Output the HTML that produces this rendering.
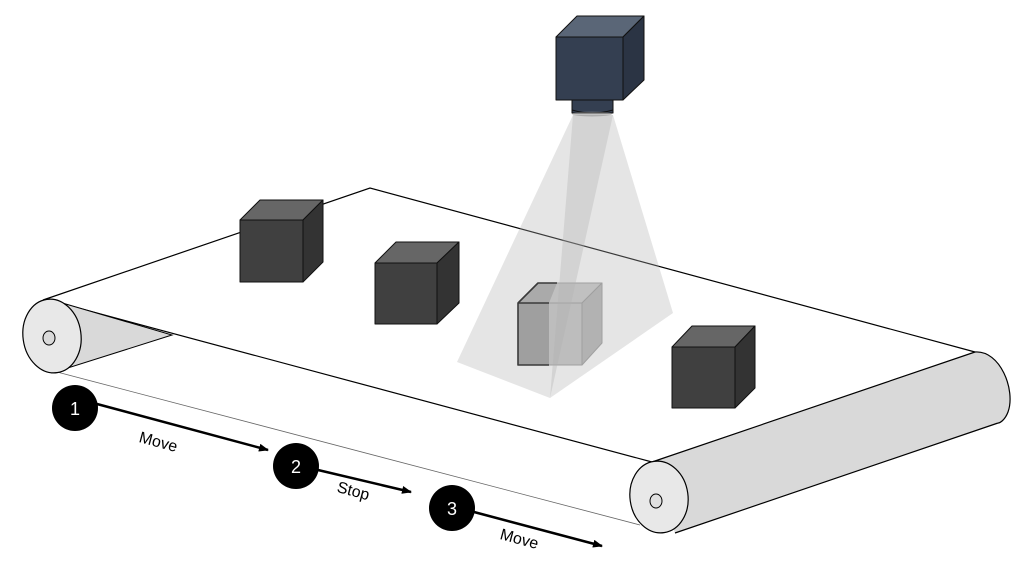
<!DOCTYPE html>
<html><head><meta charset="utf-8"><style>
html,body{margin:0;padding:0;background:#fff;}
svg{display:block;}
text{font-family:"Liberation Sans",sans-serif;}
</style></head><body>
<svg width="1024" height="570" viewBox="0 0 1024 570" xmlns="http://www.w3.org/2000/svg">
<defs>
<marker id="ah" markerWidth="10" markerHeight="8" refX="9" refY="4" orient="auto" markerUnits="userSpaceOnUse">
<path d="M0,0 L10,4 L0,8 Z" fill="#000"/></marker>
</defs>
<polygon points="43,300 370,188 975,352 652,462 67,305" fill="#fff"/>
<polyline points="43,300 370,188 975,352" fill="none" stroke="#000" stroke-width="1.2"/>
<line x1="67" y1="305" x2="652" y2="462" stroke="#000" stroke-width="1.2"/>
<line x1="57" y1="372" x2="640" y2="525" stroke="#666" stroke-width="0.8"/>
<polygon points="52,300 172,335 52,373" fill="#d9d9d9" stroke="#000" stroke-width="1"/>
<ellipse cx="52" cy="336" rx="29" ry="37" fill="#e8e8e8" stroke="#000" stroke-width="1.2" transform="rotate(-8 52 336)"/>
<ellipse cx="49" cy="338" rx="6" ry="7" fill="#d9d9d9" stroke="#000" stroke-width="1"/>
<polygon points="652,462 975,352 1000,423 675,533" fill="#d9d9d9"/>
<line x1="652" y1="462" x2="975" y2="352" stroke="#000" stroke-width="1.2"/>
<line x1="675" y1="533" x2="998" y2="423" stroke="#000" stroke-width="1.2"/>
<path d="M975,352 C1000,350 1016,390 1008,412 C1005,420 1000,423 998,423" fill="#d9d9d9" stroke="#000" stroke-width="1.2"/>
<ellipse cx="659" cy="497" rx="29" ry="36" fill="#e8e8e8" stroke="#000" stroke-width="1.2" transform="rotate(-8 659 497)"/>
<ellipse cx="656" cy="501" rx="6" ry="7" fill="#e0e0e0" stroke="#000" stroke-width="1"/>
<g stroke="#111" stroke-width="1" stroke-linejoin="round">
<polygon points="240,220 260,200 323,200 303,220" fill="#666"/>
<polygon points="303,220 323,200 323,262 303,282" fill="#333"/>
<rect x="240" y="220" width="63" height="62" fill="#404040"/>
</g>
<g stroke="#111" stroke-width="1" stroke-linejoin="round">
<polygon points="375,263 396,242 459,242 437,263" fill="#666"/>
<polygon points="437,263 459,242 459,303 437,324" fill="#333"/>
<rect x="375" y="263" width="62" height="61" fill="#404040"/>
</g>
<g stroke="#111" stroke-width="1" stroke-linejoin="round">
<polygon points="672,347 692,326 755,326 735,347" fill="#666"/>
<polygon points="735,347 755,326 755,388 735,408" fill="#333"/>
<rect x="672" y="347" width="63" height="61" fill="#404040"/>
</g>
<g stroke-linejoin="round">
<polygon points="518,303 538,283 602,283 582,303" fill="#c8c8c8" stroke="#999" stroke-width="1"/>
<polygon points="582,303 602,283 602,343 582,365" fill="#b4b4b4" stroke="#999" stroke-width="1"/>
<rect x="518" y="303" width="64" height="62" fill="#c4c4c4" stroke="#999" stroke-width="1"/>
<rect x="518" y="303" width="31" height="62" fill="#979797"/>
<polygon points="518,303 538,283 557,283 549,303" fill="#a8a8a8"/>
<polyline points="549,303 518,303 518,365 549,365" fill="none" stroke="#000" stroke-width="1.6"/>
<polyline points="518,303 538,283 557,283" fill="none" stroke="#000" stroke-width="1.6"/>
</g>
<polygon points="573,115 613,115 673,313 550,398" fill="#b0b0b0" fill-opacity="0.33"/>
<polygon points="573,115 613,115 550,398 457,362" fill="#b0b0b0" fill-opacity="0.33"/>
<g stroke="#111" stroke-width="1" stroke-linejoin="round">
<polygon points="556,37 577,16 644,16 623,37" fill="#5a6677"/>
<polygon points="623,37 644,16 644,80 623,100" fill="#2b3444"/>
<rect x="556" y="37" width="67" height="63" fill="#343f51"/>
<rect x="572" y="100" width="41" height="13" fill="#343f51"/>
<path d="M572,110 Q592,116 613,110" fill="none" stroke="#111"/>
</g>
<ellipse cx="592" cy="114" rx="20" ry="2.5" fill="#888" opacity="0.5"/>
<line x1="97" y1="404" x2="268" y2="450" stroke="#000" stroke-width="2.5" marker-end="url(#ah)"/>
<line x1="318" y1="470" x2="411" y2="492" stroke="#000" stroke-width="2.5" marker-end="url(#ah)"/>
<line x1="474" y1="512" x2="602" y2="546" stroke="#000" stroke-width="2.5" marker-end="url(#ah)"/>
<circle cx="75" cy="408" r="23" fill="#000"/>
<circle cx="296" cy="466" r="23" fill="#000"/>
<circle cx="452" cy="508" r="23" fill="#000"/>
<text x="75" y="415" fill="#fff" font-size="18" text-anchor="middle">1</text>
<text x="296" y="473" fill="#fff" font-size="18" text-anchor="middle">2</text>
<text x="452" y="515" fill="#fff" font-size="18" text-anchor="middle">3</text>
<text x="157" y="447" font-size="16" text-anchor="middle" transform="rotate(15 157 447)">Move</text>
<text x="352" y="496" font-size="16" text-anchor="middle" transform="rotate(15 352 496)">Stop</text>
<text x="518" y="544" font-size="16" text-anchor="middle" transform="rotate(15 518 544)">Move</text>
</svg>
</body></html>
